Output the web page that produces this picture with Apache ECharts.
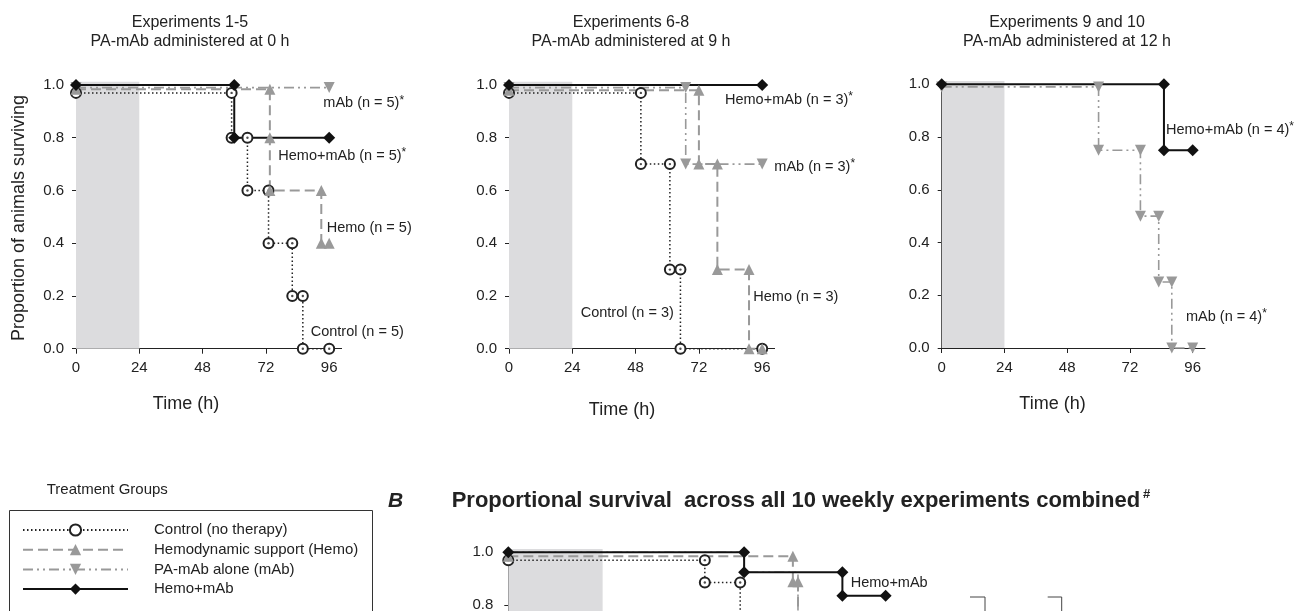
<!DOCTYPE html>
<html><head><meta charset="utf-8">
<script src="https://cdn.jsdelivr.net/npm/echarts@6/dist/echarts.min.js"></script>
<style>html,body{margin:0;padding:0;background:#fff}#c{width:1312px;height:611px}</style>
</head><body><div id="c"></div>
<script>
// ---------------- DATA ----------------
const groupNames = ['Control (no therapy)', 'Hemodynamic support (Hemo)', 'PA-mAb alone (mAb)', 'Hemo+mAb'];
const timeTicks = [0, 24, 48, 72, 96];
const propTicks = [0, 0.2, 0.4, 0.6, 0.8, 1.0];
const shadeHours = [0, 24];

// Panel 1: Experiments 1-5 (PA-mAb at 0 h)  [time h, proportion]
const p1Control = [[0,0.97],[59,0.97],[59,0.8],[65,0.8],[65,0.6],[73,0.6],[73,0.4],[82,0.4],[82,0.2],[86,0.2],[86,0],[96,0]];
const p1Hemo    = [[0,0.984],[73.5,0.984],[73.5,0.8],[73.5,0.6],[93,0.6],[93,0.4],[96,0.4]];
const p1Mab     = [[0,0.99],[96,0.99]];
const p1HemoMab = [[0,1],[60,1],[60,0.8],[96,0.8]];

// Panel 2: Experiments 6-8 (PA-mAb at 9 h)
const p2Control = [[0,0.97],[50,0.97],[50,0.7],[61,0.7],[61,0.3],[65,0.3],[65,0],[96,0]];
const p2Hemo    = [[0,0.98],[72,0.98],[72,0.7],[79,0.7],[79,0.3],[91,0.3],[91,0],[96,0]];
const p2Mab     = [[0,0.99],[67,0.99],[67,0.7],[96,0.7]];
const p2HemoMab = [[0,1],[96,1]];

// Panel 3: Experiments 9 and 10 (PA-mAb at 12 h)
const p3Mab     = [[0,0.99],[60,0.99],[60,0.75],[76,0.75],[76,0.5],[83,0.5],[83,0.25],[88,0.25],[88,0],[96,0]];
const p3HemoMab = [[0,1],[85,1],[85,0.75],[96,0.75]];

// Panel B: all 10 experiments combined
const bControl = [[0,0.97],[50,0.97],[50,0.885],[59,0.885],[59,0.75],[61,0.75],[61,0.625],[65,0.625],[65,0.375],[73,0.375],[73,0.25],[82,0.25],[82,0.125],[86,0.125],[86,0],[96,0]];
const bHemo    = [[0,0.985],[72.4,0.985],[72.4,0.888],[73.7,0.888],[73.7,0.625],[79,0.625],[79,0.5],[91,0.5],[91,0.375],[93,0.375],[93,0.25],[96,0.25]];
const bMab     = [[0,1],[60,1],[60,0.924],[73.7,0.924],[73.7,0.75],[76,0.75],[76,0.667],[83,0.667],[83,0.583],[88,0.583],[88,0.5],[96,0.5]];
const bHemoMab = [[0,1],[60,1],[60,0.924],[85,0.924],[85,0.835],[96,0.835]];

const panelTitles = [
  ['Experiments 1-5', 'PA-mAb administered at 0 h'],
  ['Experiments 6-8', 'PA-mAb administered at 9 h'],
  ['Experiments 9 and 10', 'PA-mAb administered at 12 h']
];
const panelNotes = [
  ['mAb (n = 5)*', 'Hemo+mAb (n = 5)*', 'Hemo (n = 5)', 'Control (n = 5)'],
  ['Hemo+mAb (n = 3)*', 'mAb (n = 3)*', 'Hemo (n = 3)', 'Control (n = 3)'],
  ['Hemo+mAb (n = 4)*', 'mAb (n = 4)*'],
  ['Hemo+mAb']
];
const xTitle = 'Time (h)';
const yTitle = 'Proportion of animals surviving';
const legendTitle = 'Treatment Groups';
const bLetter = 'B';
const bTitle = 'Proportional survival  across all 10 weekly experiments combined';
const bTitleMark = '#';

// ---------------- LAYOUT / STYLE ----------------
const FONT = '"Liberation Sans", Arial, Helvetica, sans-serif';
const INK = '#222222';
const GREY = '#999999';
const SHADE = '#dcdcde';
const YMAX = 1.012, XMAX = 100.7;
const bMabFirstMarker = 4;   // in panel B the mAb curve runs hidden under Hemo+mAb before this point

const grids = [
  {left: 76,    top: 81.8,  width: 265.6, height: 266.9},
  {left: 509,   top: 81.8,  width: 265.6, height: 266.9},
  {left: 941.7, top: 81.1,  width: 263.3, height: 266.9},
  {left: 508.3, top: 549.1, width: 395.8, height: 266.7}
];
const yLabelMargin = [12, 12, 12, 15];
const titleCenters = [190, 631, 1067];
const titleRows = [23, 41.5];
const xTitlePos = [[186, 404], [622, 410], [1052.5, 404]];
const notePos = [
  [[323.3, 103.3], [278.3, 156], [326.7, 228.3], [310.7, 331.7]],
  [[725, 100], [774.3, 166.7], [753.3, 297.3], [580.7, 313.3]],
  [[1166, 130], [1186, 316.7]],
  [[850.7, 583]]
];

const styles = [
  {symbol: 'emptyCircle', symbolSize: 10, itemStyle: {color: INK, borderColor: INK, borderWidth: 1}, lineStyle: {color: INK, width: 1.5, type: [1.5, 2.5]}},
  {symbol: 'triangle', symbolSize: 11, itemStyle: {color: GREY}, lineStyle: {color: GREY, width: 2, type: [10, 5]}},
  {symbol: 'triangle', symbolRotate: 180, symbolSize: 11, itemStyle: {color: GREY}, lineStyle: {color: GREY, width: 1.6, type: [10, 4, 2, 4, 2, 4]}},
  {symbol: 'diamond', symbolSize: 12, itemStyle: {color: '#111'}, lineStyle: {color: '#111', width: 2}}
];

const panels = [
  [p1Control, p1Hemo, p1Mab, p1HemoMab],
  [p2Control, p2Hemo, p2Mab, p2HemoMab],
  [null, null, p3Mab, p3HemoMab],
  [bControl, bHemo, bMab.map((p, j) => j < bMabFirstMarker ? {value: p, symbol: 'none'} : p), bHemoMab]
];

const xAxes = [], yAxes = [], series = [];
grids.forEach((g, i) => {
  xAxes.push({
    type: 'value', gridIndex: i, min: 0, max: XMAX,
    axisLine: {show: true, onZero: false, lineStyle: {color: INK, width: 1}},
    axisTick: {show: true, length: 5, customValues: timeTicks, lineStyle: {color: INK}},
    axisLabel: {customValues: timeTicks, margin: 12, fontSize: 15, color: INK, fontFamily: FONT},
    splitLine: {show: false}
  });
  yAxes.push({
    type: 'value', gridIndex: i, min: 0, max: YMAX,
    axisLine: {show: true, onZero: false, lineStyle: {color: INK, width: 1}},
    axisTick: {show: true, length: 4, customValues: propTicks, lineStyle: {color: INK}},
    axisLabel: {customValues: propTicks, formatter: v => v.toFixed(1), margin: yLabelMargin[i], fontSize: 15, color: INK, fontFamily: FONT},
    splitLine: {show: false}
  });
  // shaded 0-24 h window
  series.push({
    type: 'line', xAxisIndex: i, yAxisIndex: i, data: [[shadeHours[0], 0], [shadeHours[1], 0]],
    showSymbol: false, lineStyle: {width: 0, opacity: 0}, silent: true, z: 1, animation: false,
    markArea: {silent: true, itemStyle: {color: SHADE}, data: [[{xAxis: shadeHours[0], yAxis: 0}, {xAxis: shadeHours[1], yAxis: YMAX}]]}
  });
  panels[i].forEach((d, k) => {
    if (!d) return;
    const st = styles[k];
    series.push(Object.assign({
      type: 'line', name: groupNames[k], xAxisIndex: i, yAxisIndex: i, data: d,
      showAllSymbol: true, clip: false, animation: false, z: 3,
      emphasis: {disabled: true}
    }, JSON.parse(JSON.stringify(st))));
    if (k === 0) {
      series.push({
        type: 'scatter', name: 'ctrl-dot', xAxisIndex: i, yAxisIndex: i, data: d,
        symbol: 'circle', symbolSize: 2.4, itemStyle: {color: INK}, silent: true, z: 3, animation: false
      });
    }
  });
});

// ---------------- GRAPHICS (text) ----------------
const graphics = [];
function text(x, y, str, o) {
  o = o || {};
  graphics.push({
    type: 'text', x: x, y: y, rotation: o.rotation || 0, silent: true,
    style: Object.assign({text: str, fill: INK, fontFamily: FONT, fontSize: o.size || 15,
      fontWeight: o.weight || 'normal', fontStyle: o.fstyle || 'normal',
      align: o.align || 'left', verticalAlign: 'middle'}, o.rich ? {rich: o.rich} : {})
  });
}
function starText(x, y, str, size) {
  if (str.endsWith('*')) {
    text(x, y, '{t|' + str.slice(0, -1) + '}{s|*}', {size: size, rich: {
      t: {fontSize: size, fontFamily: FONT, fill: INK, lineHeight: 18},
      s: {fontSize: 12, fontFamily: FONT, fill: INK, lineHeight: 9, verticalAlign: 'top'}
    }});
  } else text(x, y, str, {size: size});
}
panelTitles.forEach((t, i) => {
  text(titleCenters[i], titleRows[0], t[0], {size: 16, align: 'center'});
  text(titleCenters[i], titleRows[1], t[1], {size: 16, align: 'center'});
});
xTitlePos.forEach(p => text(p[0], p[1], xTitle, {size: 18, align: 'center'}));
text(19.3, 218, yTitle, {size: 18, align: 'center', rotation: Math.PI / 2});
panelNotes.forEach((arr, i) => arr.forEach((s, j) => starText(notePos[i][j][0], notePos[i][j][1], s, 14.5)));

// legend frame + title
text(46.7, 490, legendTitle, {size: 15});
graphics.push({type: 'rect', silent: true, shape: {x: 9.5, y: 510.5, width: 363, height: 200},
  style: {fill: 'none', stroke: '#333', lineWidth: 1}});

// panel B heading
text(388, 501, bLetter, {size: 21, weight: 'bold', fstyle: 'italic'});
text(451.7, 501, '{t|' + bTitle + '}{s|' + bTitleMark + '}', {size: 22, rich: {
  t: {fontSize: 22, fontWeight: 'bold', fontFamily: FONT, fill: INK, lineHeight: 26},
  s: {fontSize: 13, fontWeight: 'bold', fontFamily: FONT, fill: INK, lineHeight: 12, verticalAlign: 'top', padding: [0, 0, 0, 3]}
}});
// significance brackets on the right of panel B
[[970, 985], [1047.7, 1061.7]].forEach(b => graphics.push({
  type: 'polyline', silent: true, shape: {points: [[b[0], 597], [b[1], 597], [b[1], 620]]},
  style: {stroke: '#444', lineWidth: 1, fill: 'none'}
}));

const chart = echarts.init(document.getElementById('c'), null, {renderer: 'canvas'});
chart.setOption({
  animation: false,
  backgroundColor: '#fff',
  grid: grids.map(g => Object.assign({containLabel: false, outerBoundsMode: 'none'}, g)),
  xAxis: xAxes,
  yAxis: yAxes,
  series: series,
  legend: {
    data: groupNames, orient: 'vertical', left: 22, top: 522.5, padding: 0,
    itemWidth: 105, itemHeight: 14, itemGap: 4.7, selectedMode: false,
    textStyle: {fontSize: 15, color: INK, fontFamily: FONT, lineHeight: 15, padding: [0, 0, 0, 21]}
  },
  graphic: graphics
});
</script></body></html>
